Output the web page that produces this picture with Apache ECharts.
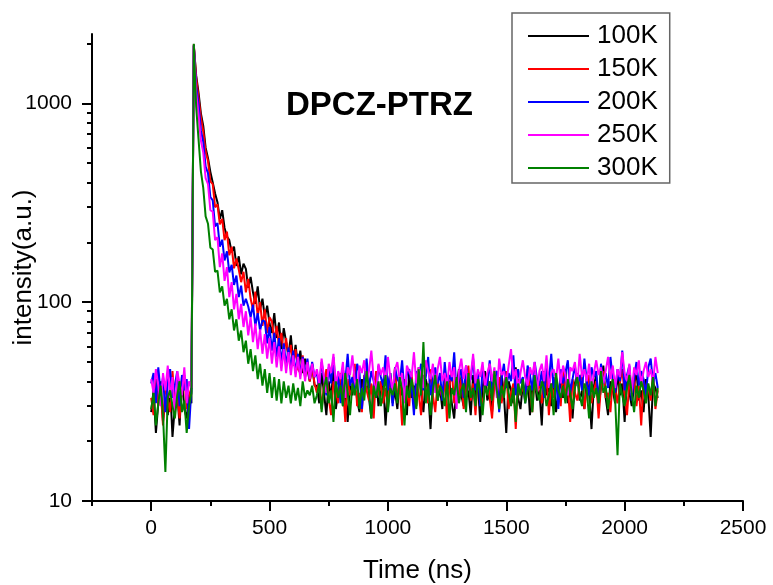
<!DOCTYPE html>
<html lang="en">

<head>
    <meta charset="UTF-8">
    <title>DPCZ-PTRZ decay</title>
    <script src="https://cdn.jsdelivr.net/npm/echarts/dist/echarts.min.js"></script>
    <style>
        html, body { margin: 0; padding: 0; background: #fff; }
    </style>
</head>

<body>
    <div id="main" style="width: 773px; height: 585px;"></div>
    <script type="text/javascript">
        // channel width of the decay traces (ns), first channel at 0 ns
        var timeStep = 10;

        var seriesNames = ['100K', '150K', '200K', '250K', '300K'];
        var seriesColors = ['#000000', '#ff0000', '#0000ff', '#ff00ff', '#008000'];

        var xMajorTicks = [0, 500, 1000, 1500, 2000, 2500];
        var xMinorTicks = [-250, 250, 750, 1250, 1750, 2250];
        var yMajorTicks = [10, 100, 1000];
        var yMinorTicks = [20, 30, 40, 50, 60, 70, 80, 90, 200, 300, 400, 500, 600, 700, 800, 900, 2000];

        var i100K = [
            28, 36, 22, 31, 40, 25, 33, 27, 38, 21, 30, 35, 24, 42, 29, 26, 34, 31,
            1950, 1380, 1130, 890, 770, 598, 530, 452, 400, 352, 318, 262, 290, 236, 214, 205, 178, 190, 152, 170,
            138, 156, 147, 118, 134, 112, 98, 120, 92, 104, 84, 96, 78, 70, 88, 66, 79, 58, 74, 63,
            54, 68, 50, 61, 47, 57, 44, 52, 46, 40, 49, 38,
            38, 31, 44, 35, 27, 40, 33, 46, 29, 36, 42, 30, 37, 25, 39, 34, 45, 32, 28, 41,
            36, 48, 33, 26, 38, 43, 30, 35, 40, 24, 37, 44, 31, 36, 29, 42, 34, 39, 27, 45,
            33, 38, 30, 47, 35, 28, 41, 36, 23, 39, 43, 32, 37, 29, 44, 35, 40, 31, 26, 38,
            46, 34, 30, 41, 36, 27, 43, 33, 39, 25, 37, 45, 32, 35, 28, 42, 38, 30, 44, 34,
            22, 40, 36, 31, 47, 33, 29, 39, 35, 43, 27, 37, 41, 32, 36, 24, 45, 34, 38, 30,
            42, 28, 35, 40, 33, 46, 31, 37, 26, 39, 44, 32, 36, 29, 41, 35, 23, 38, 43, 30,
            37, 48, 33, 27, 40, 36, 31, 44, 34, 39, 25, 42, 35, 30, 38, 45, 32, 36, 28, 41,
            34, 21, 39, 37, 33
        ];
        var i150K = [
            33, 27, 41, 30, 36, 24, 39, 32, 28, 45, 31, 35, 26, 38, 43, 29, 34, 37,
            1980, 1340, 1070, 850, 720, 570, 512, 405, 392, 300, 310, 246, 262, 205, 226, 172, 190, 148, 166, 146,
            126, 142, 112, 131, 104, 92, 113, 85, 100, 76, 92, 70, 84, 80, 64, 76, 60, 70, 55, 66,
            52, 61, 48, 58, 46, 44, 54, 42, 50, 40, 47, 39,
            35, 42, 29, 38, 46, 33, 27, 40, 36, 31, 44, 38, 25, 41, 34, 37, 49, 30, 35, 28,
            43, 36, 32, 39, 26, 45, 34, 40, 31, 37, 29, 42, 35, 47, 33, 38, 24, 41, 36, 30,
            44, 32, 39, 35, 27, 43, 37, 31, 46, 34, 28, 40, 36, 33, 42, 25, 38, 45, 31, 37,
            34, 41, 29, 36, 48, 32, 39, 27, 43, 35, 30, 38, 44, 33, 26, 40, 36, 42, 31, 37,
            45, 29, 35, 39, 23, 41, 34, 38, 32, 46, 36, 28, 43, 35, 40, 31, 37, 44, 27, 39,
            33, 42, 36, 30, 47, 34, 38, 25, 41, 35, 32, 39, 44, 29, 37, 43, 31, 36, 40, 26,
            38, 45, 33, 35, 28, 42, 37, 31, 39, 46, 34, 27, 40, 36, 43, 30, 38, 24, 41, 35,
            37, 32, 44, 29, 36
        ];
        var i200K = [
            39, 44, 31, 47, 35, 42, 28, 40, 46, 33, 38, 45, 30, 43, 36, 41, 23, 37,
            1960, 1220, 990, 730, 640, 480, 445, 338, 325, 240, 250, 190, 206, 162, 180, 141, 154, 122, 136, 106,
            121, 96, 104, 95, 84, 97, 76, 88, 72, 81, 80, 62, 75, 57, 70, 53, 66, 50, 62, 48,
            59, 46, 57, 44, 55, 43, 53, 42, 52, 41, 50, 42,
            44, 37, 50, 41, 34, 47, 39, 53, 36, 43, 31, 46, 40, 55, 38, 42, 35, 49, 44, 29,
            41, 52, 37, 45, 40, 33, 48, 42, 38, 54, 36, 44, 30, 47, 41, 39, 51, 35, 43, 46,
            38, 27, 45, 40, 49, 36, 42, 53, 34, 41, 47, 39, 44, 32, 50, 37, 43, 40, 56, 35,
            42, 46, 33, 48, 39, 41, 52, 36, 44, 30, 47, 40, 38, 51, 35, 43, 45, 28, 41, 49,
            37, 44, 40, 54, 34, 46, 39, 42, 31, 48, 43, 36, 50, 41, 38, 45, 33, 47, 40, 55,
            37, 42, 29, 46, 39, 44, 51, 35, 41, 48, 38, 43, 36, 52, 40, 34, 47, 42, 45, 31,
            49, 39, 44, 37, 53, 41, 35, 46, 40, 57, 36, 43, 48, 32, 42, 50, 38, 45, 41, 34,
            47, 52, 39, 44, 37
        ];
        var i250K = [
            41, 35, 46, 38, 30, 44, 36, 48, 33, 42, 27, 45, 39, 34, 47, 31, 40, 37,
            1940, 1130, 880, 650, 565, 420, 392, 290, 285, 205, 212, 150, 176, 128, 150, 106, 126, 92, 110, 82,
            98, 75, 90, 68, 84, 63, 78, 58, 73, 55, 69, 52, 66, 49, 63, 47, 60, 45, 58, 44,
            56, 43, 54, 42, 53, 41, 52, 40, 50, 41, 49, 42,
            46, 39, 52, 42, 35, 49, 44, 55, 38, 45, 41, 50, 33, 47, 43, 54, 40, 36, 48, 44,
            51, 38, 45, 57, 41, 34, 49, 43, 47, 39, 53, 42, 36, 46, 50, 40, 44, 31, 48, 45,
            42, 56, 39, 47, 43, 37, 51, 45, 41, 49, 35, 46, 53, 40, 44, 38, 50, 42, 47, 29,
            45, 52, 41, 48, 36, 43, 55, 39, 46, 42, 50, 37, 44, 49, 40, 47, 33, 52, 43, 45,
            39, 48, 58, 41, 46, 36, 44, 51, 42, 38, 47, 43, 50, 35, 45, 49, 40, 54, 37, 44,
            46, 41, 52, 39, 48, 43, 34, 47, 45, 50, 38, 55, 42, 46, 40, 49, 36, 44, 51, 43,
            47, 39, 45, 53, 41, 48, 37, 46, 42, 56, 44, 40, 49, 35, 47, 43, 51, 38, 45, 50,
            42, 46, 39, 53, 44
        ];
        var i300K = [
            29, 35, 24, 31, 38, 27, 14, 33, 36, 30, 26, 34, 40, 28, 32, 22, 30, 35,
            1990, 960, 660, 455, 375, 270, 248, 188, 184, 142, 144, 112, 120, 96, 104, 82, 92, 72, 82, 64,
            72, 56, 64, 49, 58, 45, 54, 41, 49, 38, 46, 35, 44, 33, 42, 32, 41, 31, 40, 33,
            38, 31, 39, 32, 37, 30, 40, 33, 36, 34, 38, 31,
            34, 39, 28, 37, 42, 31, 36, 25, 40, 33, 38, 30, 44, 35, 27, 39, 34, 41, 29, 37,
            32, 45, 36, 26, 38, 33, 40, 30, 35, 43, 28, 37, 34, 39, 31, 42, 36, 24, 38, 33,
            41, 35, 29, 46, 34, 63, 31, 39, 27, 36, 43, 32, 38, 35, 30, 40, 26, 37, 34, 42,
            31, 36, 39, 28, 44, 33, 37, 30, 41, 35, 27, 38, 34, 40, 32, 45, 36, 29, 38, 33,
            42, 35, 30, 37, 25, 39, 34, 41, 31, 36, 38, 28, 43, 35, 32, 40, 37, 30, 34, 39,
            27, 44, 36, 33, 38, 31, 41, 35, 29, 37, 42, 34, 30, 39, 36, 26, 40, 33, 37, 31,
            45, 35, 38, 29, 36, 41, 32, 17, 39, 34, 30, 37, 43, 35, 28, 38, 33, 40, 36, 31,
            39, 34, 42, 30, 37
        ];

        var traces = [i100K, i150K, i200K, i250K, i300K];

        function toPairs(values) {
            return values.map(function (v, i) { return [i * timeStep, v]; });
        }

        var font = 'Liberation Sans, Arial, sans-serif';
        var plainNumber = function (v) { return String(Math.round(v)); };

        var myChart = echarts.init(document.getElementById('main'), null, { renderer: 'canvas' });
        var option = {
            animation: false,
            backgroundColor: '#fff',
            title: {
                text: 'DPCZ-PTRZ',
                left: 286,
                top: 89,
                padding: 0,
                textStyle: { fontFamily: font, fontSize: 33, fontWeight: 'bold', color: '#000' }
            },
            legend: {
                orient: 'vertical',
                left: 512,
                top: 13,
                padding: [10, 12, 2, 16],
                itemGap: 7,
                itemWidth: 61,
                itemHeight: 2,
                icon: 'rect',
                borderColor: '#666',
                borderWidth: 1.5,
                data: seriesNames,
                textStyle: { fontFamily: font, fontSize: 26, lineHeight: 26, color: '#000', padding: [0, 0, 0, 3] }
            },
            grid: { left: 92, right: 30, top: 34, bottom: 84, containLabel: false, outerBoundsMode: 'none' },
            xAxis: [{
                type: 'value',
                min: -250,
                max: 2500,
                name: 'Time (ns)',
                nameLocation: 'middle',
                nameGap: 57,
                nameMoveOverlap: false,
                nameTextStyle: { fontFamily: font, fontSize: 26, color: '#000' },
                axisLine: { onZero: false, lineStyle: { color: '#000', width: 2 } },
                splitLine: { show: false },
                axisTick: { length: 10, customValues: xMajorTicks, lineStyle: { color: '#000', width: 2 } },
                axisLabel: { customValues: xMajorTicks, formatter: plainNumber, margin: 17, fontFamily: font, fontSize: 21, color: '#000' }
            }, {
                type: 'value',
                min: -250,
                max: 2500,
                position: 'bottom',
                axisLine: { show: false, onZero: false },
                splitLine: { show: false },
                axisTick: { length: 5, customValues: xMinorTicks, lineStyle: { color: '#000', width: 2 } },
                axisLabel: { show: false }
            }],
            yAxis: [{
                type: 'log',
                logBase: 10,
                min: 10,
                max: 2230,
                name: 'intensity(a.u.)',
                nameLocation: 'middle',
                nameGap: 55,
                nameMoveOverlap: false,
                nameTextStyle: { fontFamily: font, fontSize: 26, color: '#000' },
                axisLine: { onZero: false, lineStyle: { color: '#000', width: 2 } },
                splitLine: { show: false },
                axisTick: { length: 10, customValues: yMajorTicks, lineStyle: { color: '#000', width: 2 } },
                axisLabel: { customValues: yMajorTicks, formatter: plainNumber, margin: 20, fontFamily: font, fontSize: 21, color: '#000' }
            }, {
                type: 'log',
                logBase: 10,
                min: 10,
                max: 2230,
                position: 'left',
                axisLine: { show: false, onZero: false },
                splitLine: { show: false },
                axisTick: { length: 5, customValues: yMinorTicks, lineStyle: { color: '#000', width: 2 } },
                axisLabel: { show: false }
            }],
            series: traces.map(function (vals, k) {
                return {
                    name: seriesNames[k],
                    type: 'line',
                    xAxisIndex: 0,
                    yAxisIndex: 0,
                    symbol: 'none',
                    showSymbol: false,
                    color: seriesColors[k],
                    lineStyle: { color: seriesColors[k], width: 2 },
                    data: toPairs(vals)
                };
            })
        };

        myChart.setOption(option);
    </script>
</body>

</html>
